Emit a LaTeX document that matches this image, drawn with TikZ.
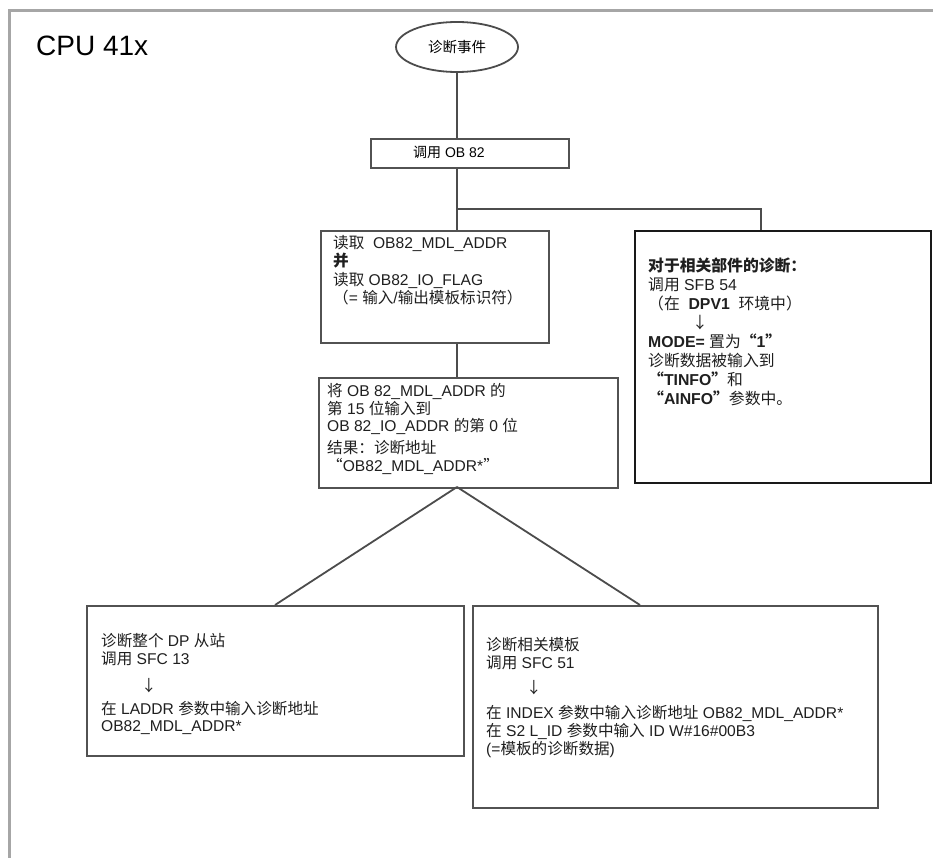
\documentclass[tikz,border=0pt]{standalone}
\usepackage{fontspec}
\setmainfont{Liberation Sans}
\newfontfamily\cjk{Noto Sans CJK SC}
\newcommand\C[1]{{\cjk #1}}
\usetikzlibrary{shapes.geometric}
\begin{document}
\begin{tikzpicture}[x=1pt,y=-1pt,
  gbox/.style={draw=black!68, line width=1.8pt, inner sep=0pt, anchor=north west},
  kbox/.style={draw=black!90, line width=2.2pt, inner sep=0pt, anchor=north west},
  txt/.style={anchor=north west, inner sep=0pt, align=left, text=black!88,
    font=\fontsize{15.6}{18.5}\selectfont},
  conn/.style={draw=black!70, line width=1.8pt}]
\useasboundingbox (0,0) rectangle (933,858);
\fill[white] (0,0) rectangle (933,858);
% outer frame
\draw[black!35, line width=3pt] (9,858) -- (9,11) -- (933,11);
\node[anchor=west, inner sep=0pt, font=\fontsize{28}{30}\selectfont] (cpu) at (36,46) {CPU 41x};
% event ellipse
\node[ellipse, draw=black!70, line width=1.8pt, minimum width=122pt, minimum height=50pt,
  inner sep=0pt, font=\fontsize{14.5}{18}\selectfont] (ev) at (457,47) {\C{诊断事件}};
% call OB82
\node[gbox, minimum width=198pt, minimum height=29pt] (bB) at (370,138) {};
\node[anchor=west, inner sep=0pt, font=\fontsize{14}{18}\selectfont] (tB) at (413,152) {\C{调用} OB 82};
% read box
\node[gbox, minimum width=228pt, minimum height=112pt] (bC) at (320,230) {};
\node[txt] (tC) at (333,235) {\C{读取}\ \ OB82\_MDL\_ADDR\\ {\bfseries\C{并}}\\ \C{读取} OB82\_IO\_FLAG\\ \C{（}= \C{输入}/\C{输出模板标识符）}};
% right box
\node[kbox, minimum width=296pt, minimum height=252pt] (bD) at (634,230) {};
\node[txt, font=\fontsize{15.8}{19}\selectfont] (tD) at (648,258) {{\bfseries\C{对于相关部件的诊断：}}\\
\C{调用} SFB 54\\
\C{（在}\ \ {\bfseries DPV1}\ \ \C{环境中）}\\
\hspace{44pt}\C{↓}\\
{\bfseries MODE=}\ \C{置为}{\bfseries\C{“}1\C{”}}\\
\C{诊断数据被输入到}\\
{\bfseries\C{“}TINFO\C{”}}\C{和}\\
{\bfseries\C{“}AINFO\C{”}}\C{参数中。}};
% box E
\node[gbox, minimum width=299pt, minimum height=110pt] (bE) at (318,377) {};
\node[txt, font=\fontsize{15.6}{17.8}\selectfont] (tE) at (327,383) {\C{将} OB 82\_MDL\_ADDR \C{的}\\
\C{第} 15 \C{位输入到}\\
OB 82\_IO\_ADDR \C{的第} 0 \C{位}\\[4pt]
\C{结果：诊断地址}\\
\C{“}OB82\_MDL\_ADDR*\C{”}};
% bottom-left box
\node[gbox, minimum width=377pt, minimum height=150pt] (bF) at (86,605) {};
\node[txt] (tF1) at (101,633) {\C{诊断整个} DP \C{从站}\\ \C{调用} SFC 13};
\node[txt] (aF) at (141,678) {\C{↓}};
\node[txt, font=\fontsize{15.6}{17.5}\selectfont] (tF2) at (101,701) {\C{在} LADDR \C{参数中输入诊断地址}\\ OB82\_MDL\_ADDR*};
% bottom-right box
\node[gbox, minimum width=405pt, minimum height=202pt] (bG) at (472,605) {};
\node[txt] (tG1) at (486,637) {\C{诊断相关模板}\\ \C{调用} SFC 51};
\node[txt] (aG) at (526,680) {\C{↓}};
\node[txt, font=\fontsize{15.6}{18}\selectfont] (tG2) at (486,705) {\C{在} INDEX \C{参数中输入诊断地址} OB82\_MDL\_ADDR*\\
\C{在} S2 L\_ID \C{参数中输入} ID W\#16\#00B3\\
(=\C{模板的诊断数据})};
% connectors
\draw[conn] (ev.south) -- (ev.south |- bB.north);
\draw[conn] (ev.south |- bB.south) -- (ev.south |- bC.north);
\coordinate (j1) at (457,209);
\draw[conn] (j1) -| ([xshift=127pt]bD.north west);
\draw[conn] (ev.south |- bC.south) -- (ev.south |- bE.north);
\coordinate (apex) at (457,487);
\draw[conn] (apex) -- ([xshift=189pt]bF.north west);
\draw[conn] (apex) -- ([xshift=168pt]bG.north west);
\end{tikzpicture}
\end{document}
